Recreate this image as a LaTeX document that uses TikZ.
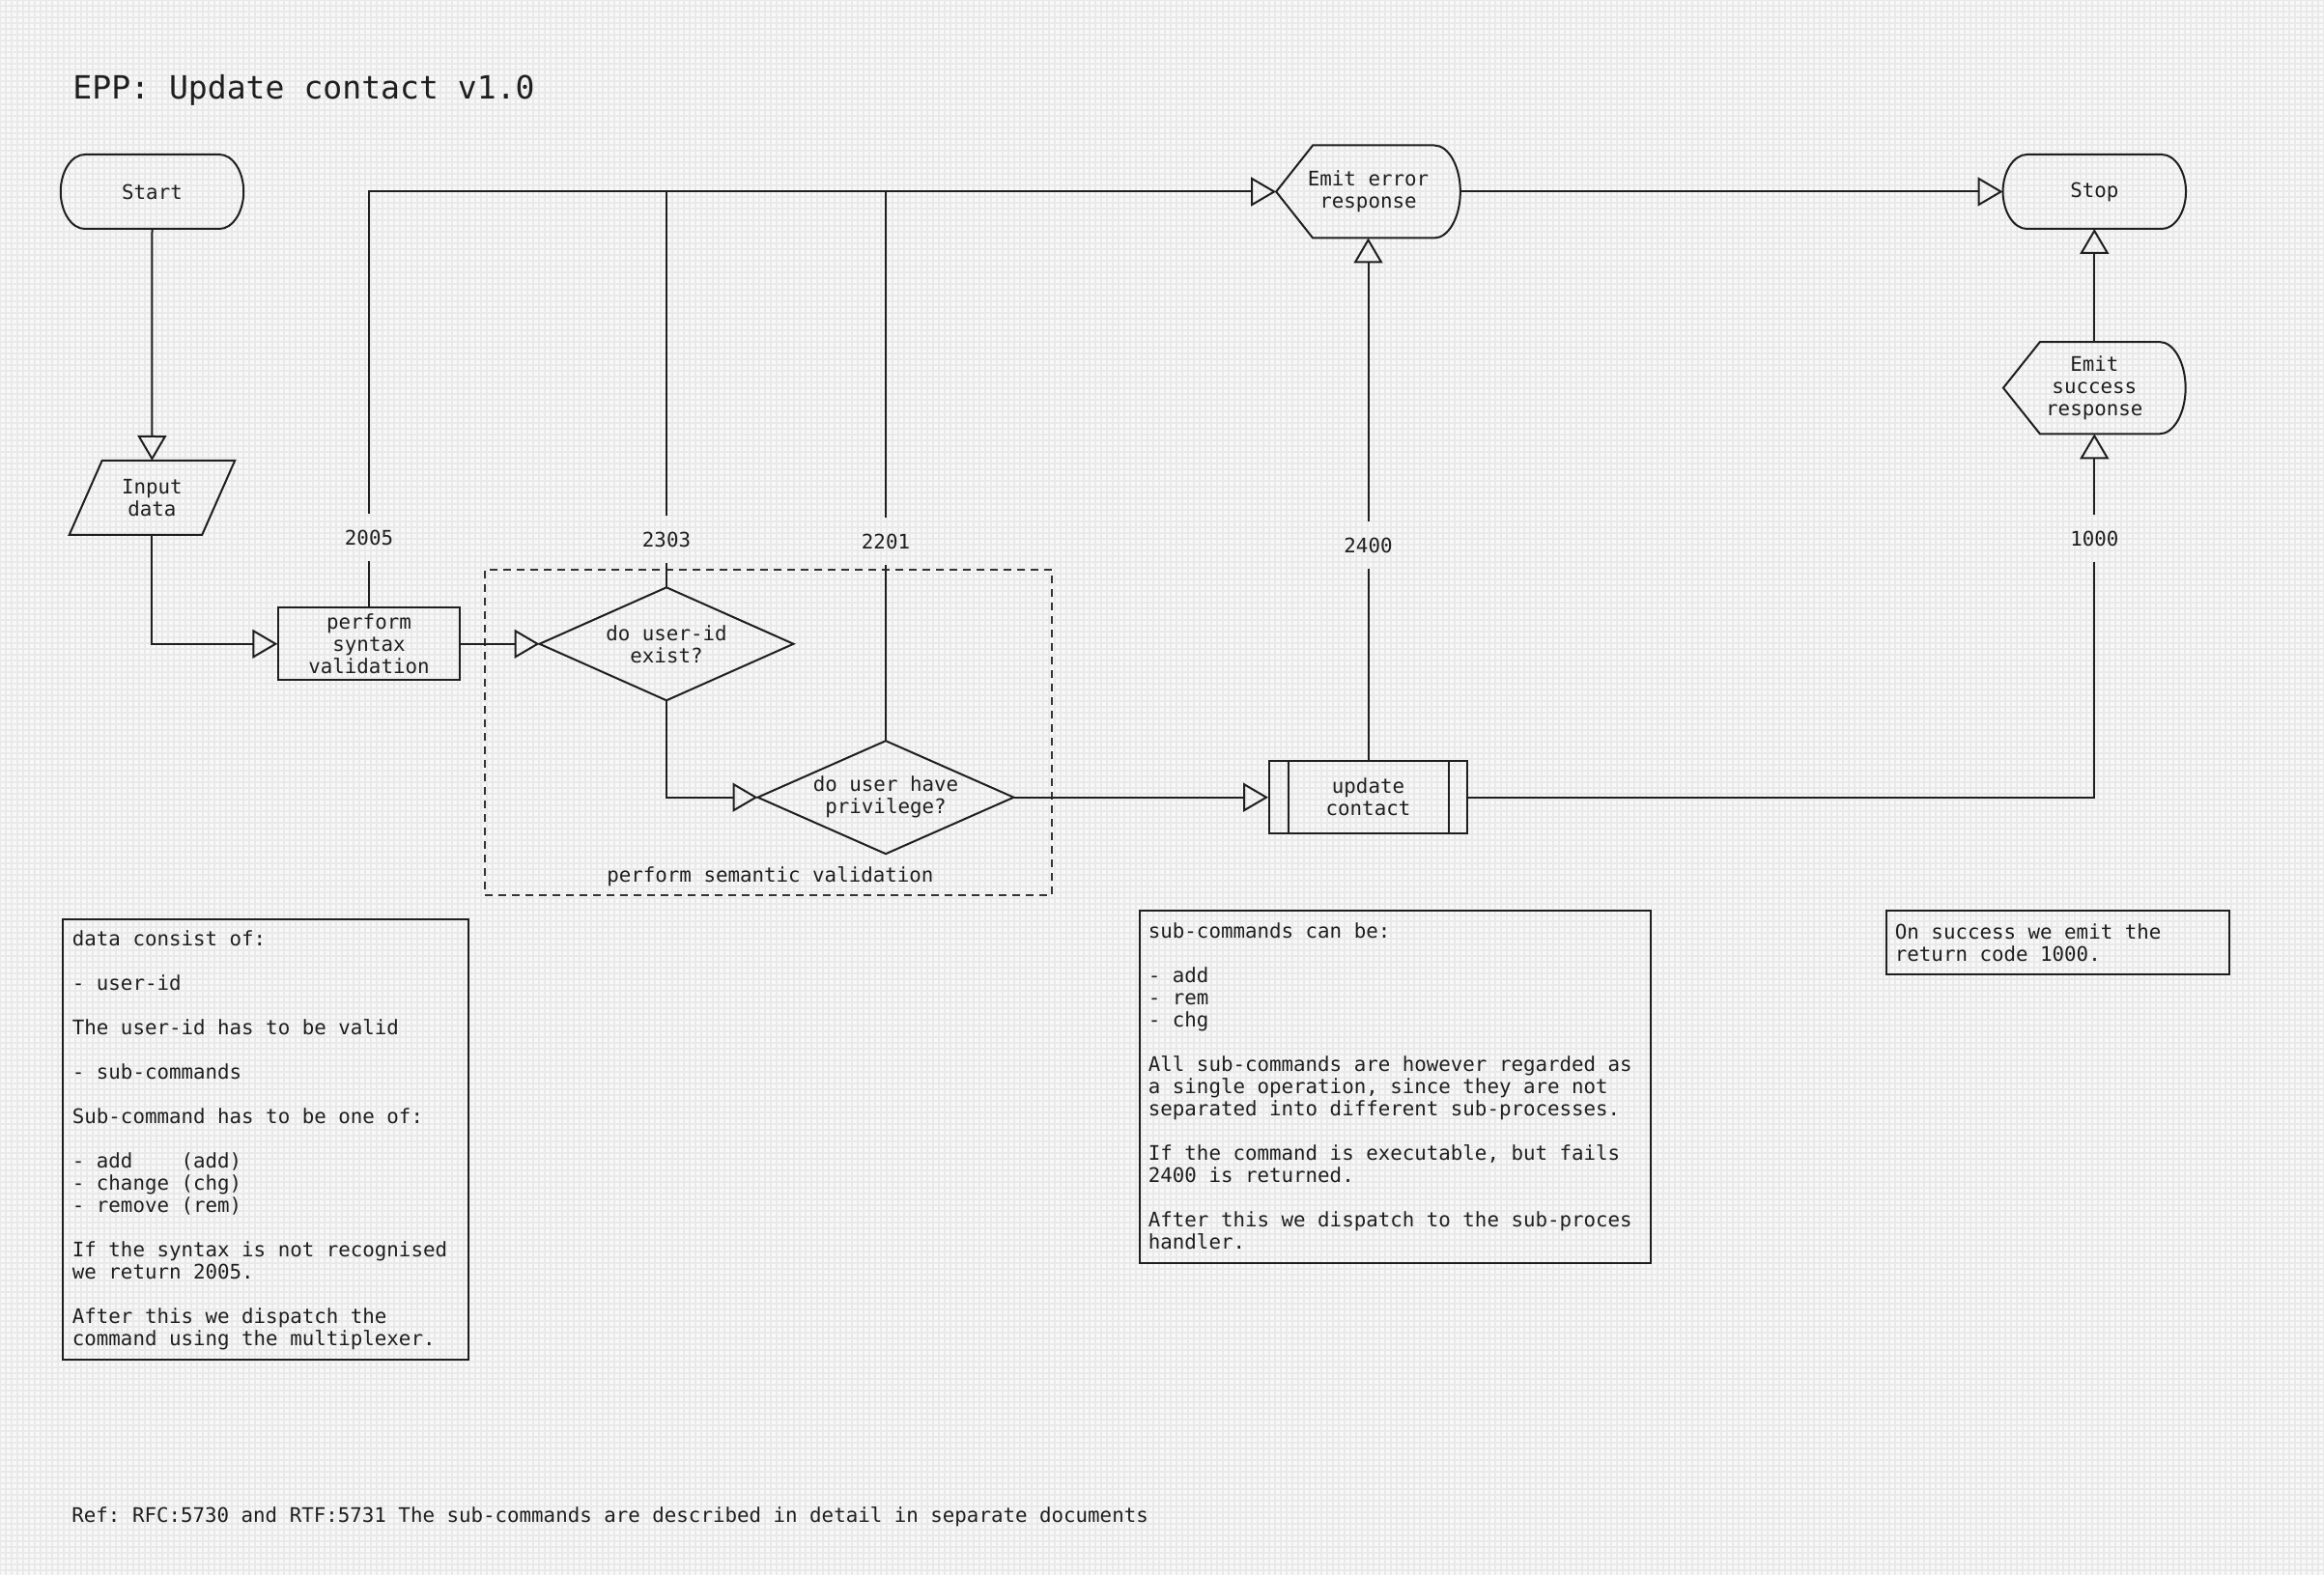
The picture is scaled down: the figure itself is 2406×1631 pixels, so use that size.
\documentclass[tikz,border=0pt]{standalone}
\usepackage{fontspec}
\usetikzlibrary{arrows.meta,calc}
\newfontfamily\mono[WordSpace={1,0,0}]{DejaVu Sans Mono}
\newcommand\bodyfont{\mono\fontsize{10.4pt}{11.5pt}\selectfont\frenchspacing}
\newcommand\titlefont{\mono\fontsize{16.55pt}{20pt}\selectfont\frenchspacing}
\definecolor{inkc}{HTML}{1F1F1F}
\definecolor{bgc}{HTML}{F8F8F8}
\definecolor{gridc}{HTML}{E9E9E9}
\definecolor{dashc}{HTML}{333333}
% shape outlines drawn round named nodes
\newcommand\drawstadium[1]{%
  \draw[ink] ([xshift=12.5pt]#1.north west) -- ([xshift=-12.5pt]#1.north east)
    .. controls ([xshift=-5.6pt]#1.north east) and ([yshift=10.36pt]#1.east) .. (#1.east)
    .. controls ([yshift=-10.36pt]#1.east) and ([xshift=-5.6pt]#1.south east) .. ([xshift=-12.5pt]#1.south east)
    -- ([xshift=12.5pt]#1.south west)
    .. controls ([xshift=5.6pt]#1.south west) and ([yshift=-10.36pt]#1.west) .. (#1.west)
    .. controls ([yshift=10.36pt]#1.west) and ([xshift=5.6pt]#1.north west) .. ([xshift=12.5pt]#1.north west)
    -- cycle;}
\newcommand\drawdisplay[2]{%
  \draw[ink] (#1.west) -- ([xshift=19pt]#1.north west) -- ([xshift=-13.5pt]#1.north east)
    .. controls ([xshift=-6pt]#1.north east) and ([yshift=#2]#1.east) .. (#1.east)
    .. controls ([yshift=-#2]#1.east) and ([xshift=-6pt]#1.south east) .. ([xshift=-13.5pt]#1.south east)
    -- ([xshift=19pt]#1.south west) -- cycle;}
\newcommand\drawdiamond[1]{%
  \draw[ink] (#1.west) -- (#1.north) -- (#1.east) -- (#1.south) -- cycle;}
\newcommand\drawparallelo[1]{%
  \draw[ink] ([xshift=17pt]#1.north west) -- (#1.north east)
    -- ([xshift=-17pt]#1.south east) -- (#1.south west) -- cycle;}
\newcommand\drawsubproc[1]{%
  \draw[ink] ([xshift=10.5pt]#1.north west) -- ([xshift=10.5pt]#1.south west);
  \draw[ink] ([xshift=-10pt]#1.north east) -- ([xshift=-10pt]#1.south east);}
\begin{document}
\begin{tikzpicture}[x=0.5pt,y=-0.5pt,
  ink/.style={draw=inkc,line width=1pt},
  sh/.style={font=\bodyfont,text=inkc,align=center,inner sep=0pt,draw=inkc,line width=1pt},
  arr/.style={ink,-{Triangle[open,length=13pt,width=15pt]}},
  lbl/.style={font=\bodyfont,text=inkc,inner sep=0pt,minimum height=24pt},
  dashbox/.style={draw=dashc,line width=1pt,dash pattern=on 4pt off 3pt,inner sep=0pt},
  notebox/.style={draw=inkc,line width=1pt,anchor=north west,inner sep=0pt},
  notetext/.style={font=\bodyfont,text=inkc,anchor=north west,inner sep=0pt,align=left},
  titletext/.style={font=\titlefont,text=inkc,anchor=base west,inner sep=0pt},
  foottext/.style={font=\bodyfont,text=inkc,anchor=base west,inner sep=0pt}]
\useasboundingbox (0,0) rectangle (2406,1631);
\fill[bgc] (0,0) rectangle (2406,1631);
\draw[gridc,line width=1pt,step=3pt] (0,0) grid (2406,1631);

\node[titletext] (title) at (75,102.6) {EPP: Update contact v1.0};

% flow nodes
\node[sh,draw=none,minimum width=93.75pt,minimum height=37.5pt] (start) at (157.5,198.5) {Start};
\drawstadium{start}
\node[sh,draw=none,minimum width=84.75pt,minimum height=37.5pt] (input) at (157.4,515.5) {Input\\data};
\drawparallelo{input}
\node[sh,draw,minimum width=93.7pt,minimum height=37.5pt] (syntax) at (382,666.8) {perform\\syntax\\validation};
\node[dashbox,minimum width=293.5pt,minimum height=168.35pt] (sem) at (795.8,758.35) {};
\node[font=\bodyfont,text=inkc,inner sep=0pt] (semlbl) at (797.4,907.7) {perform semantic validation};
\node[sh,draw=none,minimum width=130.5pt,minimum height=57.5pt] (d1) at (690,666.8) {do user-id\\exist?};
\drawdiamond{d1}
\node[sh,draw=none,minimum width=131.5pt,minimum height=57.5pt] (d2) at (917,825.7) {do user have\\privilege?};
\drawdiamond{d2}
\node[sh,draw,minimum width=102.5pt,minimum height=37.5pt] (upd) at (1416.5,825.7) {update\\contact};
\drawsubproc{upd}
\node[sh,draw=none,minimum width=94.35pt,minimum height=47pt] (err) at (1416.5,198.5) {Emit error\\response};
\drawdisplay{err}{12.98pt}
\node[sh,draw=none,minimum width=93.75pt,minimum height=37.5pt] (stop) at (2168.3,198.5) {Stop};
\drawstadium{stop}
\node[sh,draw=none,minimum width=93.35pt,minimum height=46.65pt] (succ) at (2168.3,401.7) {Emit\\success\\response};
\drawdisplay{succ}{12.88pt}

% return code labels
\node[lbl] (l2005) at (382,556.7) {2005};
\node[lbl] (l2303) at (690,558.8) {2303};
\node[lbl] (l2201) at (917,560.7) {2201};
\node[lbl] (l2400) at (1416.5,564.6) {2400};
\node[lbl] (l1000) at (2168.3,557.8) {1000};
\coordinate (j2303) at (l2303 |- err.west);
\coordinate (j2201) at (l2201 |- err.west);

% connectors
\draw[arr] (start.south) -- (input.north);
\draw[arr] (input.south) |- (syntax.west);
\draw[arr] (syntax.east) -- (d1.west);
\draw[arr] (d1.south) |- (d2.west);
\draw[arr] (d2.east) -- (upd.west);
\draw[ink] (syntax.north) -- (l2005.south);
\draw[arr] (l2005.north) |- (err.west);
\draw[ink] (d1.north) -- (l2303.south);
\draw[ink] (l2303.north) -- (j2303);
\draw[ink] (d2.north) -- (l2201.south);
\draw[ink] (l2201.north) -- (j2201);
\draw[ink] (upd.north) -- (l2400.south);
\draw[arr] (l2400.north) -- (err.south);
\draw[arr] (err.east) -- (stop.west);
\draw[ink] (upd.east) -| (l1000.south);
\draw[arr] (l1000.north) -- (succ.south);
\draw[arr] (succ.north) -- (stop.south);

% notes
\node[notebox,minimum width=210pt,minimum height=228.3pt] (note1) at (64,950.7) {};
\node[notetext] (note1txt) at (74.5,963.5) {data consist of:\\ \mbox{}\\
- user-id\\ \mbox{}\\
The user-id has to be valid\\ \mbox{}\\
- sub-commands\\ \mbox{}\\
Sub-command has to be one of:\\ \mbox{}\\
- add\ \ \ \ (add)\\
- change (chg)\\
- remove (rem)\\ \mbox{}\\
If the syntax is not recognised\\
we return 2005.\\ \mbox{}\\
After this we dispatch the\\
command using the multiplexer.};

\node[notebox,minimum width=264.75pt,minimum height=182.3pt] (note2) at (1178.5,942) {};
\node[notetext] (note2txt) at (1188.5,954.8) {sub-commands can be:\\ \mbox{}\\
- add\\
- rem\\
- chg\\ \mbox{}\\
All sub-commands are however regarded as\\
a single operation, since they are not\\
separated into different sub-processes.\\ \mbox{}\\
If the command is executable, but fails\\
2400 is returned.\\ \mbox{}\\
After this we dispatch to the sub-proces\\
handler.};

\node[notebox,minimum width=177.2pt,minimum height=33pt] (note3) at (1952.3,942.3) {};
\node[notetext] (note3txt) at (1961.5,955.9) {On success we emit the\\
return code 1000.};

\node[foottext] (footer) at (74,1576) {Ref: RFC:5730 and RTF:5731 The sub-commands are described in detail in separate documents};
\end{tikzpicture}
\end{document}
